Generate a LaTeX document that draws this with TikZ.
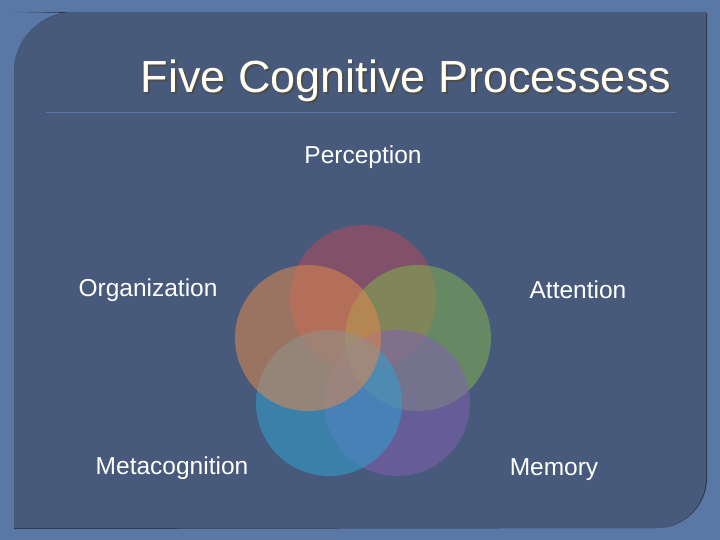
\documentclass[tikz,border=0pt]{standalone}
\usepackage{fontspec}
\setmainfont{Liberation Sans}
\begin{document}
\begin{tikzpicture}[x=1pt,y=-1pt,
  lbl/.style={text=white,font=\fontsize{24.5}{27}\selectfont,inner sep=0pt},
  circ/.style={circle,minimum size=146pt,inner sep=0pt,fill opacity=0.55}]
\definecolor{outer}{HTML}{5A78A6}
\definecolor{panel}{HTML}{475A7B}
\definecolor{cr}{HTML}{B04A5A}
\definecolor{cg}{HTML}{80B050}
\definecolor{co}{HTML}{E08850}
\definecolor{cp}{HTML}{8060B0}
\definecolor{cb}{HTML}{30A0D0}
\fill[outer] (0,0) rectangle (720,540);
\fill[black!40!panel] (14,13) -- (707,13) -- (707,478) arc[start angle=0,end angle=90,radius=50] -- (14,529) -- (14,72) arc[start angle=180,end angle=270,radius=60] -- cycle;
\fill[panel] (14,12) -- (706,12) -- (706,478) arc[start angle=0,end angle=90,radius=50] -- (14,528) -- (14,72) arc[start angle=180,end angle=270,radius=60] -- cycle;
\draw[outer,line width=1pt] (46,113) -- (676,113);
\node[text=black!70,font=\fontsize{45}{48}\selectfont,inner sep=0pt] at (408,83) {Five Cognitive Processess};
\node[text=white!94!yellow,font=\fontsize{45}{48}\selectfont,inner sep=0pt] (title) at (406,81) {Five Cognitive Processess};
\node[circ,fill=cr] (perc) at (363,298) {};
\node[circ,fill=cg] (att) at (418,338) {};
\node[circ,fill=cp] (mem) at (397,403) {};
\node[circ,fill=cb] (meta) at (329,403) {};
\node[circ,fill=co] (org) at (308,338) {};
\node[lbl] (lp) at (363,157) {Perception};
\node[lbl] (lo) at (148,290) {Organization};
\node[lbl] (la) at (578,290) {Attention};
\node[lbl] (lmeta) at (172,468) {Metacognition};
\node[lbl] (lmem) at (554,470) {Memory};
\end{tikzpicture}
\end{document}
